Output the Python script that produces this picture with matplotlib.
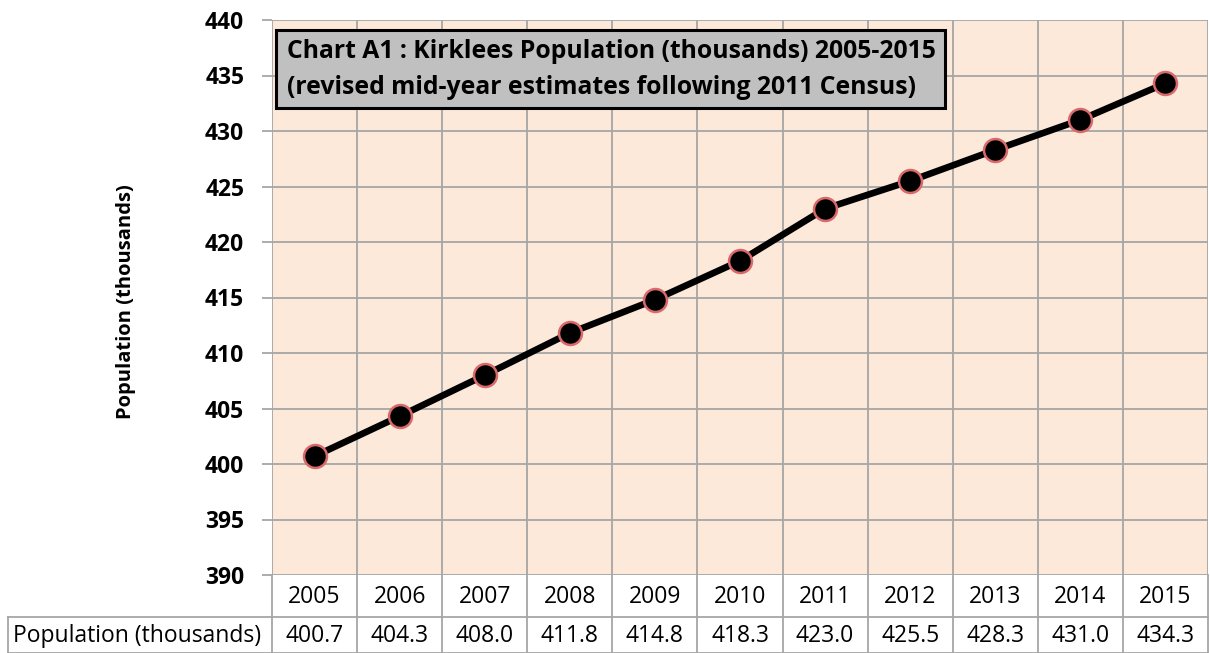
import matplotlib.pyplot as plt
from matplotlib.patches import Rectangle
import numpy as np

years = ['2005', '2006', '2007', '2008', '2009', '2010',
         '2011', '2012', '2013', '2014', '2015']
population = [400.7, 404.3, 408.0, 411.8, 414.8, 418.3,
              423.0, 425.5, 428.3, 431.0, 434.3]
yticks = [390, 395, 400, 405, 410, 415, 420, 425, 430, 435, 440]

W, H = 1210, 653
fig = plt.figure(figsize=(W / 100, H / 100), dpi=100)
plt.rcParams['font.family'] = ['Open Sans', 'DejaVu Sans']


def fx(px):
    return px / W


def fy(py):
    return 1 - py / H


# plot area in pixels
left, right, top, bottom = 272, 1208, 20, 575
ax = fig.add_axes([left / W, 1 - bottom / H, (right - left) / W, (bottom - top) / H])
ax.set_facecolor('#FDE9D9')

x = np.arange(len(years))
ax.set_xlim(-0.5, len(years) - 0.5)
ax.set_ylim(390, 440)

grid_col = '#A6A6A6'
for b in np.arange(-0.5, len(years) + 0.5, 1):
    ax.axvline(b, color=grid_col, lw=1.3, zorder=1)
for t in yticks:
    ax.axhline(t, color=grid_col, lw=1.3, zorder=1)

ax.plot(x, population, color='black', lw=4.8, zorder=3,
        marker='o', markersize=16.5, markerfacecolor='black',
        markeredgecolor='#D9696A', markeredgewidth=1.8)

for s in ax.spines.values():
    s.set_visible(False)
ax.set_xticks([])
ax.set_yticks(yticks)
ax.set_yticklabels([str(t) for t in yticks], fontsize=16.5, fontweight='bold')
ax.tick_params(axis='y', length=7, width=1.3, color=grid_col, pad=13)

fig.text(fx(126), fy(302), 'Population (thousands)', rotation=90,
         ha='center', va='center', fontsize=14.5, fontweight='bold')

# title box
fig.add_artist(Rectangle((fx(276), fy(108)), fx(945) - fx(276), fy(30) - fy(108),
                         facecolor='#C0C0C0', edgecolor='black', linewidth=2.2, zorder=5))
fig.text(fx(287), fy(52), 'Chart A1 : Kirklees Population (thousands) 2005-2015',
         ha='left', va='center', fontsize=17.8, fontweight='bold', zorder=6)
fig.text(fx(287), fy(88), '(revised mid-year estimates following 2011 Census)',
         ha='left', va='center', fontsize=17.8, fontweight='bold', zorder=6)

# data table below the plot
row1, row2, row3 = 575, 617, 653
col_w = (right - left) / len(years)
fig.add_artist(plt.Line2D([fx(8), fx(right)], [fy(row2), fy(row2)], color=grid_col, lw=1.3))
fig.add_artist(plt.Line2D([fx(8), fx(right)], [fy(row3 - 0.5), fy(row3 - 0.5)], color=grid_col, lw=1.3))
fig.add_artist(plt.Line2D([fx(8), fx(8)], [fy(row2), fy(row3)], color=grid_col, lw=1.3))
for i in range(len(years) + 1):
    xb = left + i * col_w
    fig.add_artist(plt.Line2D([fx(xb), fx(xb)], [fy(row1), fy(row3)], color=grid_col, lw=1.3))

for i, (yr, v) in enumerate(zip(years, population)):
    xc = left + (i + 0.5) * col_w
    fig.text(fx(xc), fy((row1 + row2) / 2 + 1), yr, ha='center', va='center', fontsize=16.5)
    fig.text(fx(xc), fy((row2 + row3) / 2 + 1), f'{v:.1f}', ha='center', va='center', fontsize=16.5)
fig.text(fx(13), fy((row2 + row3) / 2 + 1), 'Population (thousands)', ha='left', va='center', fontsize=16.5)

fig.savefig('out.png', dpi=100)
